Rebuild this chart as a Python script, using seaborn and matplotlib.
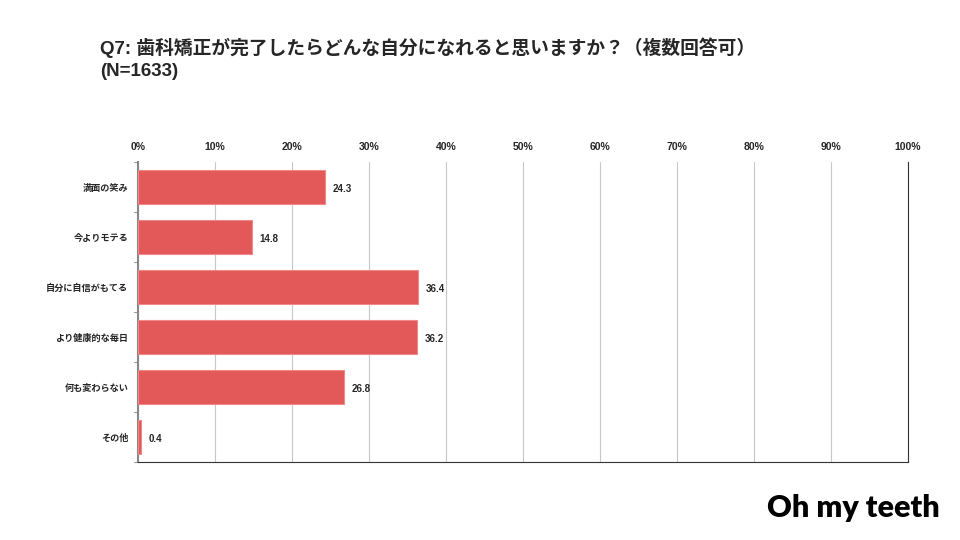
import seaborn as sns
import matplotlib.pyplot as plt
import pandas as pd

# data
categories = ['満面の笑み', '今よりモテる', '自分に自信がもてる', 'より健康的な毎日', '何も変わらない', 'その他']
values = [24.3, 14.8, 36.4, 36.2, 26.8, 0.4]
tick_values = [0, 10, 20, 30, 40, 50, 60, 70, 80, 90, 100]

sns.set_style('white')
plt.rcParams['font.family'] = ['Liberation Sans', 'Noto Sans CJK JP', 'DejaVu Sans']

df = pd.DataFrame({'item': categories, 'pct': values})

fig = plt.figure(figsize=(9.6, 5.4), dpi=100)
ax = fig.add_axes([138 / 960, 1 - 462 / 540, 770 / 960, 300 / 540])

sns.barplot(data=df, x='pct', y='item', color='#E35858', width=0.68,
            edgecolor='#F08A8A', linewidth=0.8, saturation=1, ax=ax, zorder=3)

ax.set_xlim(0, 100)
ax.set_xticks(tick_values)
ax.set_xticklabels([f'{t}%' for t in tick_values], fontsize=7.5, fontweight='bold')
ax.xaxis.tick_top()
ax.tick_params(axis='x', length=0, pad=7)
ax.grid(axis='x', color='#C8C8C8', linewidth=0.8, zorder=0)
ax.set_xlabel('')
ax.set_ylabel('')

ax.tick_params(axis='y', length=0, labelsize=6.6, pad=7)
for lbl in ax.get_yticklabels():
    lbl.set_fontweight('bold')
# small ticks between categories
for k in range(7):
    ax.plot([-0.5, 0], [k - 0.5, k - 0.5], color='#999999', lw=0.8, clip_on=False)
ax.set_ylim(len(categories) - 0.5, -0.5)

for spine in ax.spines.values():
    spine.set_color('#333333')
    spine.set_linewidth(0.8)
ax.spines['left'].set_color('#888888')
ax.spines['left'].set_linewidth(1.5)
ax.spines['top'].set_visible(False)

for i, v in enumerate(values):
    ax.text(v + 1.0, i + 0.05, f'{v:.1f}', va='center', ha='left', fontsize=7, fontweight='bold')

fig.text(100 / 960, 1 - 48 / 540, 'Q7: 歯科矯正が完了したらどんな自分になれると思いますか？（複数回答可）',
         fontsize=13.5, fontweight='bold', va='center', ha='left')
fig.text(100 / 960, 1 - 71 / 540, '(N=1633)', fontsize=13.5, fontweight='bold', va='center', ha='left')
fig.text(853 / 960, 1 - 508 / 540, 'Oh my teeth', fontsize=22, fontweight='heavy',
         family=['Lato', 'DejaVu Sans'], color='black', va='center', ha='center')

fig.savefig('out.png', dpi=100)
